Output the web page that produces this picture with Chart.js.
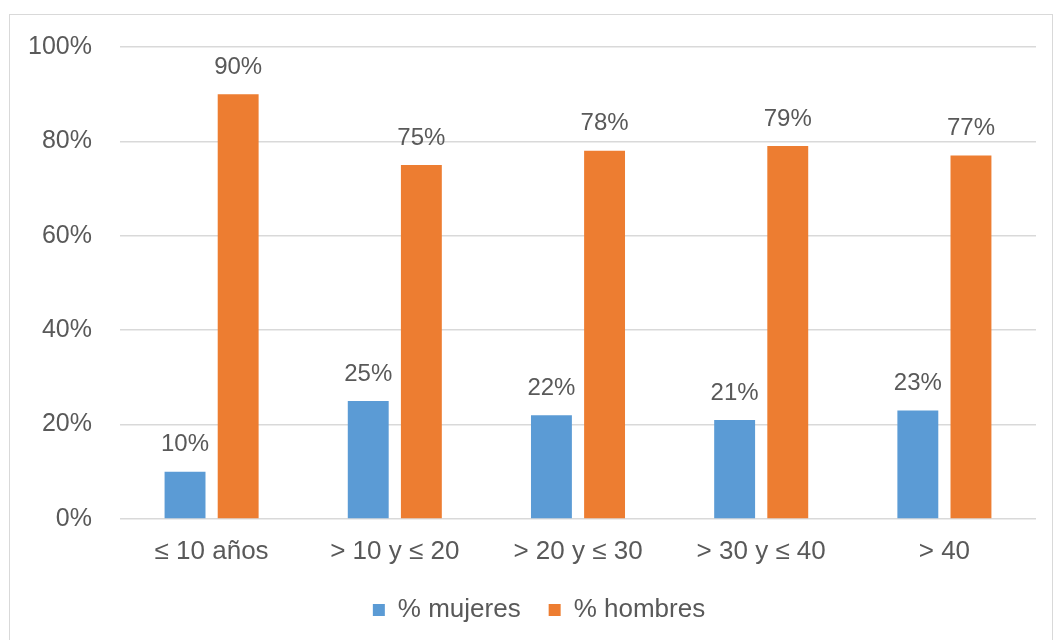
<!DOCTYPE html>
<html>
<head>
<meta charset="utf-8">
<script src="https://cdn.jsdelivr.net/npm/chart.js@4.4.1/dist/chart.umd.min.js"></script>
<style>
    html, body { margin: 0; padding: 0; background: #fff; }
    #wrap { position: relative; width: 1053px; height: 640px; overflow: hidden; }
    #frame { position: absolute; left: 9px; top: 14px; width: 1042px; height: 640px; border: 1px solid #d9d9d9; }
    #myChart { position: absolute; left: 0; top: 0; }
</style>
</head>
<body>
<div id="wrap">
    <div id="frame"></div>
    <canvas id="myChart" width="1053" height="640"></canvas>
</div>
<script>
    const categories = ['≤ 10 años', '> 10 y ≤ 20', '> 20 y ≤ 30', '> 30 y ≤ 40', '> 40'];
    const mujeres = [10, 25, 22, 21, 23];
    const hombres = [90, 75, 78, 79, 77];
    const yTicks = [0, 20, 40, 60, 80, 100];

    const textColor = '#595959';
    const fontFamily = '"Liberation Sans", Arial, sans-serif';

    // writes the value above every bar
    const barLabels = {
        id: 'barLabels',
        afterDatasetsDraw(chart) {
            const ctx = chart.ctx;
            ctx.save();
            ctx.font = '24px ' + fontFamily;
            ctx.fillStyle = textColor;
            ctx.textAlign = 'center';
            ctx.textBaseline = 'middle';
            chart.data.datasets.forEach(function (ds, i) {
                chart.getDatasetMeta(i).data.forEach(function (bar, j) {
                    ctx.fillText(ds.data[j] + '%', bar.x, bar.y - 27);
                });
            });
            ctx.restore();
        }
    };

    // legend sits centred under the whole frame, not under the plot
    const legendShift = {
        id: 'legendShift',
        afterLayout(chart) {
            if (chart.legend) {
                chart.legend.left += 11;
                chart.legend.right += 11;
            }
        }
    };

    new Chart(document.getElementById('myChart'), {
        type: 'bar',
        data: {
            labels: categories,
            datasets: [{
                label: '% mujeres',
                data: mujeres,
                backgroundColor: '#5B9BD5',
                categoryPercentage: 0.58,
                barPercentage: 0.77
            }, {
                label: '% hombres',
                data: hombres,
                backgroundColor: '#ED7D31',
                categoryPercentage: 0.58,
                barPercentage: 0.77
            }]
        },
        options: {
            responsive: false,
            animation: false,
            layout: { padding: { left: 20, right: 17, top: 47, bottom: 7 } },
            scales: {
                x: {
                    afterFit: function (scale) { scale.height = 50; },
                    grid: { display: false, drawTicks: false },
                    border: { display: false },
                    ticks: { color: textColor, font: { family: fontFamily, size: 26 }, padding: 17 }
                },
                y: {
                    min: 0,
                    max: 100,
                    afterFit: function (scale) { scale.width = 100; },
                    afterBuildTicks: function (scale) {
                        scale.ticks = yTicks.map(v => ({ value: v }));
                    },
                    grid: { color: '#d9d9d9', lineWidth: 1.5, drawTicks: false },
                    border: { display: false },
                    ticks: {
                        color: textColor,
                        font: { family: fontFamily, size: 25 },
                        padding: 28,
                        callback: v => v + '%'
                    }
                }
            },
            plugins: {
                legend: {
                    position: 'bottom',
                    labels: {
                        color: textColor,
                        font: { family: fontFamily, size: 26 },
                        boxWidth: 12,
                        boxHeight: 12,
                        padding: 28
                    }
                },
                tooltip: { enabled: false }
            }
        },
        plugins: [barLabels, legendShift]
    });
</script>
</body>
</html>
